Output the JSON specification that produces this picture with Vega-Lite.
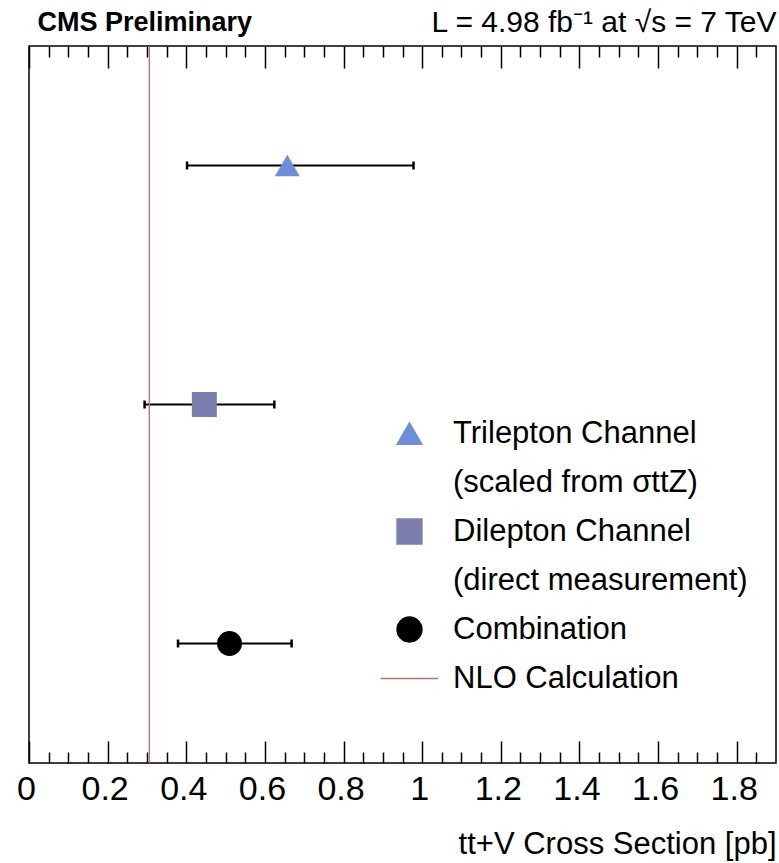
{
  "$schema": "https://vega.github.io/schema/vega-lite/v6.json",
  "width": 747,
  "height": 717,
  "autosize": {"type": "none"},
  "padding": {"left": 29, "top": 46, "right": 3, "bottom": 100},
  "background": "white",
  "config": {
    "font": "Liberation Sans",
    "view": {"stroke": "black", "strokeWidth": 1.5},
    "axis": {"grid": false, "domain": false, "tickColor": "black", "tickWidth": 1.5, "labelColor": "black", "titleColor": "black", "titleFontWeight": "normal", "labelFlush": false}
  },
  "datasets": {
    "meas": [
      {"series": "Trilepton Channel", "value": 0.657, "lo": 0.402, "hi": 0.978},
      {"series": "Dilepton Channel", "value": 0.446, "lo": 0.294, "hi": 0.624},
      {"series": "Combination", "value": 0.51, "lo": 0.379, "hi": 0.668}
    ],
    "nlo": [{"series": "NLO Calculation", "value": 0.306}]
  },
  "resolve": {"axis": {"x": "independent"}},
  "layer": [
    {
      "data": {"name": "meas"},
      "mark": {"type": "rule", "color": "black", "strokeWidth": 2},
      "encoding": {
        "x": {
          "field": "lo", "type": "quantitative",
          "scale": {"domain": [0, 1.9], "nice": false, "zero": false},
          "axis": {
            "orient": "bottom",
            "values": [0, 0.2, 0.4, 0.6, 0.8, 1, 1.2, 1.4, 1.6, 1.8],
            "format": "~g",
            "tickSize": -22,
            "labelFontSize": 34,
            "labelPadding": 31,
            "labelOffset": -3,
            "title": "tt+V Cross Section [pb]",
            "titleAnchor": "end",
            "titleFontSize": 31,
            "titlePadding": 23
          }
        },
        "x2": {"field": "hi"},
        "y": {"field": "series", "type": "nominal", "scale": {"type": "point", "padding": 0.5, "domain": ["Trilepton Channel", "Dilepton Channel", "Combination"]}, "axis": null}
      }
    },
    {
      "data": {"name": "meas"},
      "mark": {"type": "tick", "orient": "vertical", "color": "black", "size": 8, "thickness": 2.5, "opacity": 1},
      "encoding": {
        "x": {
          "field": "lo", "type": "quantitative",
          "scale": {"domain": [0, 1.9], "nice": false, "zero": false},
          "axis": {
            "orient": "bottom",
            "values": [0.05, 0.1, 0.15, 0.25, 0.3, 0.35, 0.45, 0.5, 0.55, 0.65, 0.7, 0.75, 0.85, 0.9, 0.95, 1.05, 1.1, 1.15, 1.25, 1.3, 1.35, 1.45, 1.5, 1.55, 1.65, 1.7, 1.75, 1.85],
            "tickSize": -11,
            "labels": false,
            "title": null
          }
        },
        "y": {"field": "series", "type": "nominal", "scale": {"type": "point", "padding": 0.5, "domain": ["Trilepton Channel", "Dilepton Channel", "Combination"]}, "axis": null}
      }
    },
    {
      "data": {"name": "meas"},
      "mark": {"type": "tick", "orient": "vertical", "color": "black", "size": 8, "thickness": 2.5, "opacity": 1},
      "encoding": {
        "x": {
          "field": "hi", "type": "quantitative",
          "scale": {"domain": [0, 1.9], "nice": false, "zero": false},
          "axis": {
            "orient": "top",
            "values": [0, 0.2, 0.4, 0.6, 0.8, 1, 1.2, 1.4, 1.6, 1.8],
            "tickSize": -22,
            "labels": false,
            "title": "L = 4.98 fb⁻¹ at √s = 7 TeV",
            "titleAnchor": "end",
            "titleFontSize": 30,
            "titlePadding": 8
          }
        },
        "y": {"field": "series", "type": "nominal", "scale": {"type": "point", "padding": 0.5, "domain": ["Trilepton Channel", "Dilepton Channel", "Combination"]}, "axis": null}
      }
    },
    {
      "data": {"name": "meas"},
      "mark": {"type": "point", "filled": true, "size": 625, "opacity": 1},
      "encoding": {
        "x": {
          "field": "value", "type": "quantitative",
          "scale": {"domain": [0, 1.9], "nice": false, "zero": false},
          "axis": {
            "orient": "top",
            "values": [0.05, 0.1, 0.15, 0.25, 0.3, 0.35, 0.45, 0.5, 0.55, 0.65, 0.7, 0.75, 0.85, 0.9, 0.95, 1.05, 1.1, 1.15, 1.25, 1.3, 1.35, 1.45, 1.5, 1.55, 1.65, 1.7, 1.75, 1.85],
            "tickSize": -11,
            "labels": false,
            "title": "CMS Preliminary",
            "titleAnchor": "start",
            "titleFontSize": 27,
            "titleFontWeight": "bold",
            "titlePadding": 9,
            "titleX": 8
          }
        },
        "y": {"field": "series", "type": "nominal", "scale": {"type": "point", "padding": 0.5, "domain": ["Trilepton Channel", "Dilepton Channel", "Combination"]}, "axis": null},
        "shape": {
          "field": "series", "type": "nominal",
          "scale": {
            "domain": ["Trilepton Channel", "(scaled from σttZ)", "Dilepton Channel", "(direct measurement)", "Combination", "NLO Calculation"],
            "range": ["triangle-up", "circle", "square", "circle", "circle", "M-2.3,0L2.3,0"]
          },
          "legend": {
            "title": null,
            "orient": "none",
            "legendX": 365,
            "legendY": 372,
            "padding": 0,
            "labelFontSize": 31,
            "labelColor": "black",
            "labelOffset": 28,
            "labelLimit": 500,
            "rowPadding": 17,
            "symbolSize": 625,
            "symbolOpacity": 1,
            "symbolStrokeWidth": 1.3,
            "encode": {"symbols": {"update": {"stroke": {"scale": "color", "field": "value"}}}}
          }
        },
        "color": {
          "field": "series", "type": "nominal",
          "scale": {
            "domain": ["Trilepton Channel", "(scaled from σttZ)", "Dilepton Channel", "(direct measurement)", "Combination", "NLO Calculation"],
            "range": ["#6e8fd8", "transparent", "#7e7eae", "transparent", "#000000", "#b87070"]
          },
          "legend": {
            "title": null,
            "orient": "none",
            "legendX": 365,
            "legendY": 372,
            "padding": 0,
            "labelFontSize": 31,
            "labelColor": "black",
            "labelOffset": 28,
            "labelLimit": 500,
            "rowPadding": 17,
            "symbolSize": 625,
            "symbolOpacity": 1,
            "symbolStrokeWidth": 1.3,
            "encode": {"symbols": {"update": {"stroke": {"scale": "color", "field": "value"}}}}
          }
        }
      }
    },
    {
      "data": {"name": "nlo"},
      "mark": {"type": "rule", "color": "#b87070", "strokeWidth": 1.3},
      "encoding": {
        "x": {"field": "value", "type": "quantitative", "scale": {"domain": [0, 1.9], "nice": false, "zero": false}, "axis": null}
      }
    }
  ]
}
